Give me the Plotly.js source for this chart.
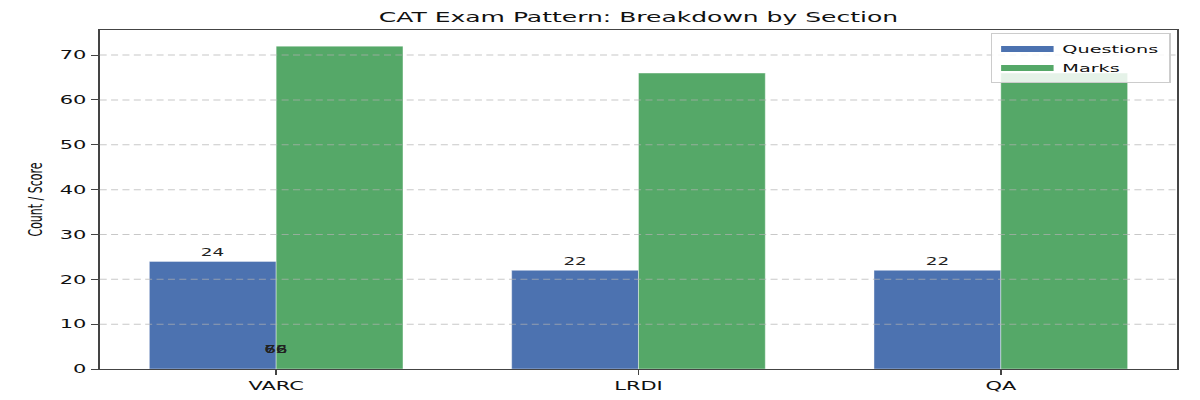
<!DOCTYPE html>
<html>
<head>
<meta charset="utf-8">
<script src="https://cdn.plot.ly/plotly-3.0.1.min.js"></script>
<style>
html,body{margin:0;padding:0;background:#fff;}
#wrap{width:1200px;height:400px;overflow:hidden;position:relative;}
#chart{position:absolute;left:0;top:0;transform-origin:0 0;}
</style>
</head>
<body>
<div id="wrap"><div id="chart"></div></div>
<script>
const sections = ["VARC", "LRDI", "QA"];
const questions = [24, 22, 22];
const marks = [72, 66, 66];
const seriesNames = ["Questions", "Marks"];
const yTicks = [0, 10, 20, 30, 40, 50, 60, 70];

// The reference image is horizontally stretched; draw at a narrower width and stretch.
const SX = 1.75;
const W = Math.round(1200 / SX);
const sx = 1200 / W;
const chartDiv = document.getElementById("chart");
chartDiv.style.width = W + "px";
chartDiv.style.height = "400px";
chartDiv.style.transform = "scaleX(" + sx + ")";

const FONT = "DejaVu Sans, Liberation Sans, sans-serif";
const BLUE = "#4C72B0", GREEN = "#55A868";

const traces = [
  {
    type: "bar", name: seriesNames[0], x: sections, y: questions, showlegend: false,
    marker: {color: BLUE, line: {width: 0.5, color: "rgba(255,255,255,0.6)"}},
    text: questions.map(String), textposition: "outside", cliponaxis: false,
    textfont: {family: FONT, size: 10.5, color: "#222"}
  },
  {
    type: "bar", name: seriesNames[1], x: sections, y: marks, showlegend: false,
    marker: {color: GREEN, line: {width: 0.5, color: "rgba(255,255,255,0.6)"}}
  },
  // legend entries (patch-like swatches)
  {type: "scatter", mode: "lines", name: seriesNames[0], x: [null], y: [null],
   line: {color: BLUE, width: 6}, hoverinfo: "skip"},
  {type: "scatter", mode: "lines", name: seriesNames[1], x: [null], y: [null],
   line: {color: GREEN, width: 6}, hoverinfo: "skip"}
];

// Marks labels overlap at the first category near the baseline (as in the reference)
const annotations = marks.map(v => ({
  x: sections[0], y: 4.5, xref: "x", yref: "y",
  text: String(v), showarrow: false, yanchor: "middle", xanchor: "center",
  font: {family: FONT, size: 10.5, color: "#222"}
}));

// dashed grid lines drawn above the bars
const shapes = yTicks.filter(t => t > 0).map(t => ({
  type: "line", xref: "paper", x0: 0, x1: 1, yref: "y", y0: t, y1: t, layer: "above",
  line: {color: "rgba(176,176,176,0.7)", width: 1, dash: "4px,2.5px"}
}));

const layout = {
  width: W, height: 400,
  margin: {l: 100 / sx, r: 22 / sx, t: 30, b: 31},
  paper_bgcolor: "#fff", plot_bgcolor: "#fff",
  barmode: "group", bargap: 0.3, bargroupgap: 0,
  title: {text: "CAT Exam Pattern: Breakdown by Section", x: 0.5, xref: "paper", xanchor: "center",
          y: 0.957, yref: "container", yanchor: "middle",
          font: {family: FONT, size: 14.3, color: "#111"}},
  xaxis: {
    range: [-0.487, 2.487], showline: true, mirror: true, linecolor: "#444", linewidth: 1.2,
    ticks: "outside", ticklen: 5, tickcolor: "#444", showgrid: false, layer: "above traces",
    tickfont: {family: FONT, size: 12, color: "#111"}
  },
  yaxis: {
    range: [0, 75.6], tickvals: yTicks, showline: true, mirror: true, linecolor: "#444", linewidth: 1.2,
    ticks: "outside", ticklen: 4, tickcolor: "#444", layer: "above traces",
    showgrid: false, zeroline: false,
    tickfont: {family: FONT, size: 12, color: "#111"},
    title: {text: "Count / Score", standoff: 7, font: {family: FONT, size: 11, color: "#111"}}
  },
  legend: {
    x: 0.994, y: 0.99, xanchor: "right", yanchor: "top",
    bgcolor: "rgba(255,255,255,0.85)", bordercolor: "#cccccc", borderwidth: 1,
    font: {family: FONT, size: 11, color: "#111"}, tracegroupgap: 0
  },
  annotations: annotations,
  shapes: shapes,
  showlegend: true
};

Plotly.newPlot(chartDiv, traces, layout, {displayModeBar: false, staticPlot: true});
</script>
</body>
</html>
